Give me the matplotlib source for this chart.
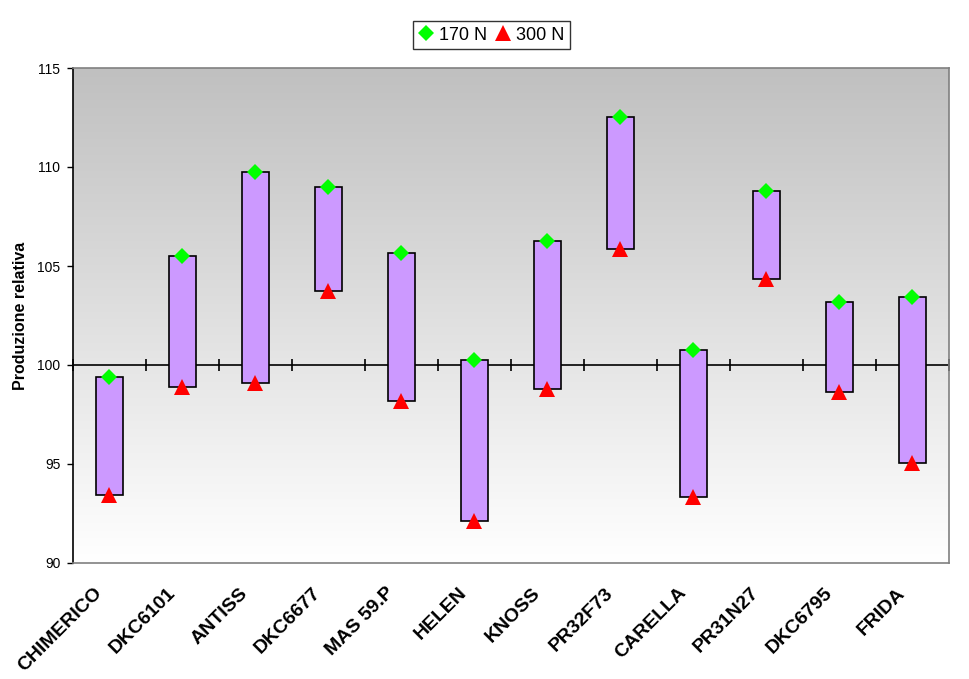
import numpy as np
import matplotlib
matplotlib.use("Agg")
import matplotlib.pyplot as plt
from matplotlib.lines import Line2D
from matplotlib.transforms import ScaledTranslation

categories = ["CHIMERICO", "DKC6101", "ANTISS", "DKC6677", "MAS 59.P", "HELEN",
              "KNOSS", "PR32F73", "CARELLA", "PR31N27", "DKC6795", "FRIDA"]
n170 = [99.38, 105.49, 109.73, 108.97, 105.64, 100.24, 106.25, 112.51, 100.74, 108.77, 103.17, 103.42]
n300 = [93.42, 98.87, 99.08, 103.72, 98.17, 92.10, 98.77, 105.84, 93.32, 104.33, 98.62, 95.04]
yticks = [90, 95, 100, 105, 110, 115]

plt.rcParams['font.family'] = ['Liberation Sans', 'DejaVu Sans']

fig = plt.figure(figsize=(9.7, 6.79), dpi=100)
ax = fig.add_axes([73/970, 1-563/679, (949-73)/970, (563-68)/679])

x = np.arange(len(categories))
lo = np.minimum(n170, n300)
hi = np.maximum(n170, n300)

# gradient background
grad = np.linspace(0, 1, 256).reshape(-1, 1)
top = np.array([192, 192, 192]) / 255
bot = np.array([255, 255, 255]) / 255
img = top[None, None, :] * (1 - grad[:, :, None]) + bot[None, None, :] * grad[:, :, None]
ax.imshow(img, extent=[-0.5, len(categories) - 0.5, 90, 115], aspect='auto', zorder=0, origin='upper')

ax.set_xlim(-0.5, len(categories) - 0.5)
ax.set_ylim(90, 115)

# baseline at 100 with category tick marks
ax.axhline(100, color='black', lw=1.2, zorder=1)
bounds = np.arange(len(categories) + 1) - 0.5
ax.plot(bounds, np.full(len(bounds), 100.0), ls='none', marker='|', ms=9, mew=1.2,
        color='black', zorder=1, clip_on=False)

ax.bar(x, hi - lo, bottom=lo, width=0.37, color='#CC99FF', edgecolor='black', lw=1.2, zorder=2)
ax.plot(x, n170, ls='none', marker='D', ms=8.5, color='#00FF00', mew=0, zorder=3)
ax.plot(x, n300, ls='none', marker='^', ms=11, color='#FF0000', mew=0, zorder=3)

ax.set_yticks(yticks)
ax.set_yticklabels([str(v) for v in yticks], fontsize=10)
ax.tick_params(axis='y', direction='out', length=4, width=1, color='black', pad=5)
ax.set_xticks(x)
ax.set_xticklabels(categories, rotation=45, ha='right', va='top', rotation_mode='anchor',
                   fontsize=14, fontweight='bold')
ax.tick_params(axis='x', length=0, pad=15.5)
off = ScaledTranslation(-16/100, 0, fig.dpi_scale_trans)
for lab in ax.get_xticklabels():
    lab.set_transform(lab.get_transform() + off)
ax.set_ylabel('Produzione relativa', fontsize=11.5, fontweight='bold')
ax.yaxis.set_label_coords(-0.051, 0.5)

for s in ['top', 'right', 'bottom']:
    ax.spines[s].set_color('#808080')
    ax.spines[s].set_linewidth(1.2)
ax.spines['left'].set_color('black')
ax.spines['left'].set_linewidth(1.2)

handles = [Line2D([], [], ls='none', marker='D', ms=8.5, color='#00FF00', mew=0),
           Line2D([], [], ls='none', marker='^', ms=11, color='#FF0000', mew=0)]
leg = fig.legend(handles, ['170 N', '300 N'], loc='center', bbox_to_anchor=(491.5/970, 1-35/679),
                 ncol=2, fontsize=13, frameon=True, fancybox=False, edgecolor='black',
                 handlelength=0.8, handletextpad=0.3, columnspacing=0.5, borderpad=0.3,
                 borderaxespad=0)
leg.get_frame().set_linewidth(1)

fig.savefig('out.png', dpi=100)
